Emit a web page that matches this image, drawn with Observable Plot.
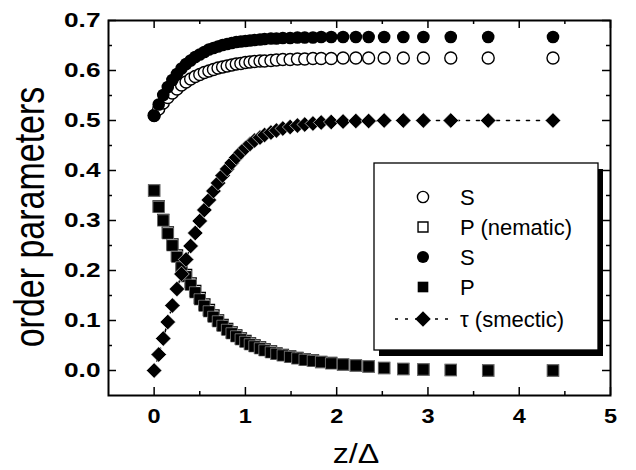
<!DOCTYPE html>
<html><head><meta charset="utf-8">
<script src="https://cdn.jsdelivr.net/npm/d3@7"></script>
<script src="https://cdn.jsdelivr.net/npm/@observablehq/plot@0.6"></script>
<style>body{margin:0;background:#fff} svg{display:block}</style>
</head><body><div id="chart"></div>
<script>
const z = [0, 0.05, 0.10, 0.15, 0.20, 0.25, 0.30, 0.35, 0.40, 0.45, 0.50, 0.55, 0.60, 0.65, 0.70, 0.75, 0.80, 0.85, 0.90, 0.95, 1.00, 1.05, 1.10, 1.16, 1.21, 1.28, 1.34, 1.41, 1.49, 1.57, 1.65, 1.74, 1.83, 1.94, 2.07, 2.21, 2.35, 2.52, 2.73, 2.95, 3.25, 3.66, 4.37];
const sNematic = [0.510,0.523,0.535,0.546,0.555,0.563,0.571,0.577,0.583,0.588,0.592,0.596,0.599,0.602,0.605,0.607,0.609,0.611,0.613,0.614,0.616,0.617,0.618,0.619,0.619,0.620,0.621,0.622,0.622,0.623,0.623,0.624,0.624,0.624,0.625,0.625,0.625,0.625,0.625,0.625,0.625,0.625,0.625];
const pNematic = [0.360,0.328,0.301,0.276,0.252,0.230,0.209,0.191,0.174,0.159,0.145,0.132,0.121,0.110,0.100,0.091,0.083,0.076,0.070,0.064,0.059,0.054,0.050,0.046,0.042,0.038,0.034,0.031,0.028,0.025,0.022,0.020,0.017,0.015,0.012,0.010,0.008,0.005,0.003,0.002,0.001,0.000,0.000];
const sSmectic = [0.510,0.532,0.551,0.567,0.581,0.593,0.604,0.613,0.620,0.627,0.632,0.637,0.642,0.645,0.648,0.651,0.653,0.655,0.657,0.658,0.659,0.660,0.661,0.662,0.663,0.664,0.664,0.665,0.665,0.666,0.666,0.666,0.667,0.667,0.667,0.667,0.667,0.667,0.667,0.667,0.667,0.667,0.667];
const pSmectic = [0.360,0.327,0.300,0.274,0.250,0.227,0.206,0.188,0.171,0.156,0.142,0.129,0.118,0.107,0.098,0.089,0.081,0.074,0.068,0.062,0.057,0.052,0.048,0.044,0.040,0.036,0.033,0.030,0.027,0.024,0.021,0.019,0.017,0.014,0.012,0.010,0.008,0.005,0.003,0.002,0.001,0.000,0.000];
const tauSmectic = [0.000,0.032,0.064,0.097,0.130,0.163,0.193,0.222,0.249,0.275,0.299,0.321,0.341,0.359,0.375,0.390,0.403,0.415,0.426,0.436,0.445,0.453,0.460,0.466,0.471,0.476,0.480,0.484,0.487,0.490,0.492,0.494,0.496,0.497,0.498,0.499,0.499,0.500,0.500,0.500,0.500,0.500,0.500];

const xMajor = [0, 1, 2, 3, 4, 5];
const xMinor = [0.5, 1.5, 2.5, 3.5, 4.5];
const yMajor = [0.0, 0.1, 0.2, 0.3, 0.4, 0.5, 0.6, 0.7];
const yMinor = [0.05, 0.15, 0.25, 0.35, 0.45, 0.55, 0.65];
const legendLabels = ["S", "P (nematic)", "S", "P", "τ (smectic)"];
const yTitle = "order parameters";
const xTitle = "z/Δ";

const rows = z.map((v, i) => ({z: v, Sn: sNematic[i], Pn: pNematic[i], Ss: sSmectic[i], Ps: pSmectic[i], tau: tauSmectic[i]}));
const FF = "'Liberation Sans', Arial, sans-serif";

const W = 636, H = 470, mL = 108, mR = 26, mT = 20, mB = 75;
const iw = W - mL - mR, ih = H - mT - mB;
const tk = {stroke: "black", strokeWidth: 1.5};

const svg = Plot.plot({
  width: W, height: H,
  marginLeft: mL, marginRight: mR, marginTop: mT, marginBottom: mB,
  style: {fontFamily: FF, background: "white", color: "black", overflow: "visible"},
  x: {domain: [-0.5, 5]},
  y: {domain: [-0.05, 0.7]},
  marks: [
    Plot.axisX(xMajor, {anchor: "bottom", tickSize: 0, tickPadding: 13, tickFormat: d3.format("d"), fontSize: 21, fontWeight: "bold", label: null}),
    Plot.axisY(yMajor, {anchor: "left", tickSize: 0, tickPadding: 8, tickFormat: d3.format(".1f"), fontSize: 21, fontWeight: "bold", label: null}),
    Plot.tickX(xMajor, {x: d => d, ...tk, insetTop: ih - 8}),
    Plot.tickX(xMinor, {x: d => d, ...tk, insetTop: ih - 4}),
    Plot.tickX(xMajor, {x: d => d, ...tk, insetBottom: ih - 8}),
    Plot.tickX(xMinor, {x: d => d, ...tk, insetBottom: ih - 4}),
    Plot.tickY(yMajor, {y: d => d, ...tk, insetRight: iw - 8}),
    Plot.tickY(yMinor, {y: d => d, ...tk, insetRight: iw - 4}),
    Plot.tickY(yMajor, {y: d => d, ...tk, insetLeft: iw - 8}),
    Plot.tickY(yMinor, {y: d => d, ...tk, insetLeft: iw - 4}),
    Plot.dot(rows, {x: "z", y: "Sn", r: 6, symbol: "circle", fill: "white", stroke: "black", strokeWidth: 1.4}),
    Plot.dot(rows, {x: "z", y: "Pn", r: 6.3, symbol: "square", fill: "white", stroke: "black", strokeWidth: 1.3}),
    Plot.line(rows, {x: "z", y: "tau", stroke: "black", strokeWidth: 1.6, strokeDasharray: "3,7"}),
    Plot.dot(rows, {x: "z", y: "Ss", r: 6.3, symbol: "circle", fill: "black", stroke: "none"}),
    Plot.dot(rows, {x: "z", y: "Ps", r: 6.5, symbol: "square", fill: "black", stroke: "white", strokeWidth: 0.4}),
    Plot.dot(rows, {x: "z", y: "tau", r: 7, symbol: "diamond2", fill: "black", stroke: "white", strokeWidth: 0.6}),
    Plot.frame({stroke: "black", strokeWidth: 2})
  ]
});

// stretch tick labels horizontally around their anchor
function stretch(sel, s) {
  svg.querySelectorAll(sel).forEach(t => {
    let tr = t.getAttribute("transform");
    if (!tr) {
      const x = +t.getAttribute("x") || 0, y = +t.getAttribute("y") || 0;
      tr = `translate(${x},${y})`;
      t.setAttribute("x", 0); t.setAttribute("y", 0);
    }
    t.setAttribute("transform", tr + ` scale(${s},1)`);
    t.style.fontSize = "21px";
    t.style.fontWeight = "bold";
    t.style.fontFamily = FF;
    t.style.fill = "black";
  });
}
stretch('g[aria-label="x-axis tick label"] text', 1.12);
stretch('g[aria-label="y-axis tick label"] text', 1.25);

const S = d3.select(svg);
S.append("text").attr("transform", "translate(44,217) scale(1.25,1) rotate(-90)")
  .attr("text-anchor", "middle").style("font-family", FF).style("font-size", "34px").attr("fill", "black").text(yTitle);
S.append("text").attr("transform", "translate(356,463) scale(1.15,1)")
  .attr("text-anchor", "middle").style("font-family", FF).style("font-size", "28px").attr("fill", "black").text(xTitle);

// legend
const L = S.append("g").style("font-family", FF).style("font-size", "22px").attr("fill", "black").attr("text-anchor", "start");
L.append("rect").attr("x", 379).attr("y", 169).attr("width", 224).attr("height", 187).attr("fill", "black");
L.append("rect").attr("x", 374).attr("y", 163).attr("width", 224).attr("height", 187).attr("fill", "white").attr("stroke", "black").attr("stroke-width", 1.3);
const rowsY = [197, 227, 257, 287, 319];
const sym = [
  {type: d3.symbolCircle, r: 5.6, fill: "white", stroke: "black"},
  {type: d3.symbolSquare, r: 5.6, fill: "white", stroke: "black"},
  {type: d3.symbolCircle, r: 6, fill: "black", stroke: "none"},
  {type: d3.symbolSquare, r: 6, fill: "black", stroke: "none"},
  {type: d3.symbolDiamond2, r: 7, fill: "black", stroke: "none"}
];
L.append("line").attr("x1", 395).attr("x2", 452).attr("y1", rowsY[4]).attr("y2", rowsY[4])
  .attr("stroke", "black").attr("stroke-width", 1.6).attr("stroke-dasharray", "3,7");
sym.forEach((s, i) => {
  L.append("path").attr("d", d3.symbol(s.type, Math.PI * s.r * s.r)())
    .attr("transform", `translate(423,${rowsY[i]})`)
    .attr("fill", s.fill).attr("stroke", s.stroke).attr("stroke-width", 1.4);
  L.append("text").attr("x", 460).attr("y", rowsY[i] + 8).attr("text-anchor", "start").text(legendLabels[i]);
});

document.getElementById("chart").appendChild(svg);
</script>
</body></html>
